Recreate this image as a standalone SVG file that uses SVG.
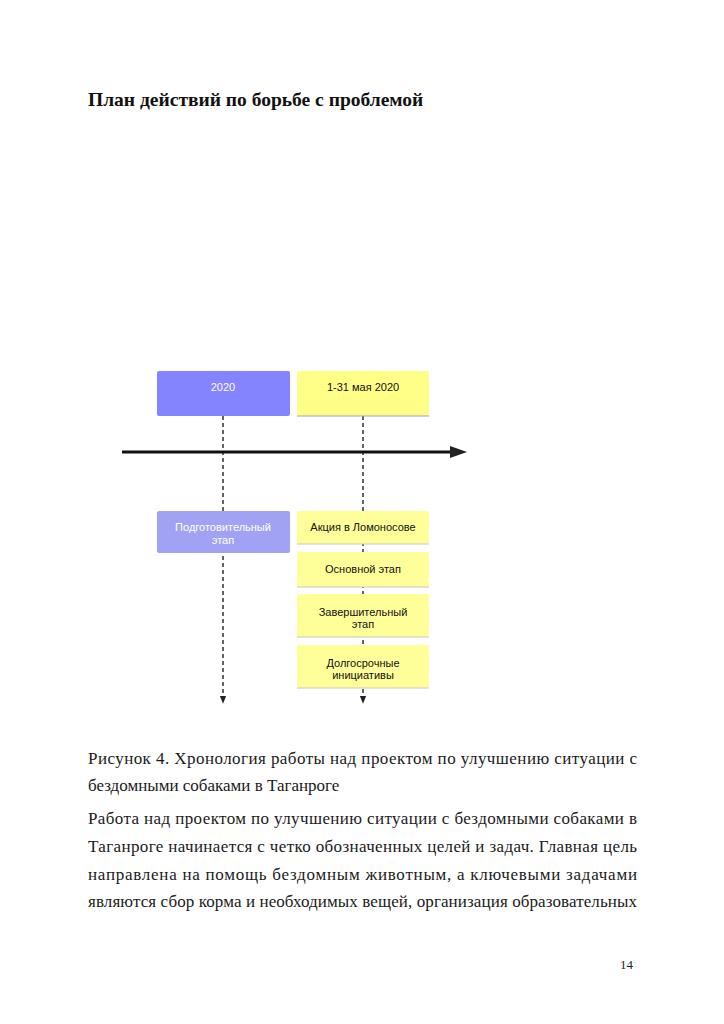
<svg xmlns="http://www.w3.org/2000/svg" width="724" height="1024" viewBox="0 0 724 1024">
<defs>
<style>
.title{font-family:"Liberation Serif",serif;font-weight:bold;font-size:19.5px;fill:#111}
.body{font-family:"Liberation Serif",serif;font-size:17px;fill:#1a1a1a}
.lbl{font-family:"Liberation Sans",Arial,sans-serif;font-size:11px;text-anchor:middle}
.w{fill:#ffffff}
.k{fill:#111111}
.dash{stroke:#111;stroke-width:1.3;stroke-dasharray:4 3;fill:none}
</style>
<marker id="ah" viewBox="0 0 10 10" refX="9" refY="5" markerWidth="8" markerHeight="8" orient="auto" markerUnits="userSpaceOnUse">
<path d="M0,1 L10,5 L0,9 Z" fill="#222"/>
</marker>
</defs>
<rect width="724" height="1024" fill="#ffffff"/>
<text class="title" x="88" y="106">План действий по борьбе с проблемой</text>

<g id="connectors">
<line class="dash" x1="223" y1="416" x2="223" y2="703" marker-end="url(#ah)"/>
<line class="dash" x1="363" y1="416" x2="363" y2="703" marker-end="url(#ah)"/>
<line x1="122" y1="452" x2="452" y2="452" stroke="#111" stroke-width="3"/>
<path d="M450,446 L467,452 L450,458 Z" fill="#222"/>
</g>

<g id="n-2020">
<rect x="157" y="371" width="133" height="45" rx="2" fill="#8484ff"/>
<text class="lbl w" x="223" y="391">2020</text>
</g>
<g id="n-may">
<rect x="297" y="371" width="132" height="45" rx="2" fill="#ffff88"/>
<line x1="297" y1="416" x2="429" y2="416" stroke="#a0a0d8" stroke-width="1.2"/>
<text class="lbl k" x="363" y="391">1-31 мая 2020</text>
</g>
<g id="n-prep">
<rect x="157" y="511" width="133" height="42" rx="2" fill="#a2a2f5"/>
<text class="lbl w" x="223" y="531">Подготовительный</text>
<text class="lbl w" x="223" y="544">этап</text>
</g>
<g id="n-akcia">
<rect x="297" y="511" width="132" height="33" rx="2" fill="#ffff99"/>
<line x1="297" y1="544" x2="429" y2="544" stroke="#c8c8c0" stroke-width="1"/>
<text class="lbl k" x="363" y="531">Акция в Ломоносове</text>
</g>
<g id="n-osn">
<rect x="297" y="552" width="132" height="35" rx="2" fill="#ffff99"/>
<line x1="297" y1="587" x2="429" y2="587" stroke="#c8c8c0" stroke-width="1"/>
<text class="lbl k" x="363" y="573">Основной этап</text>
</g>
<g id="n-zav">
<rect x="297" y="594" width="132" height="43" rx="2" fill="#ffff99"/>
<line x1="297" y1="637" x2="429" y2="637" stroke="#c8c8c0" stroke-width="1"/>
<text class="lbl k" x="363" y="616">Завершительный</text>
<text class="lbl k" x="363" y="628">этап</text>
</g>
<g id="n-dolg">
<rect x="297" y="645" width="132" height="43" rx="2" fill="#ffff99"/>
<line x1="297" y1="688" x2="429" y2="688" stroke="#c8c8c0" stroke-width="1"/>
<text class="lbl k" x="363" y="667">Долгосрочные</text>
<text class="lbl k" x="363" y="679">инициативы</text>
</g>

<g id="caption">
<text class="body" x="88" y="764" textLength="549" lengthAdjust="spacing">Рисунок 4. Хронология работы над проектом по улучшению ситуации с</text>
<text class="body" x="88" y="791">бездомными собаками в Таганроге</text>
<text class="body" x="88" y="824" textLength="549" lengthAdjust="spacing">Работа над проектом по улучшению ситуации с бездомными собаками в</text>
<text class="body" x="88" y="852" textLength="549" lengthAdjust="spacing">Таганроге начинается с четко обозначенных целей и задач. Главная цель</text>
<text class="body" x="88" y="880" textLength="549" lengthAdjust="spacing">направлена на помощь бездомным животным, а ключевыми задачами</text>
<text class="body" x="88" y="907" textLength="549" lengthAdjust="spacing">являются сбор корма и необходимых вещей, организация образовательных</text>
</g>
<text x="633" y="969" style="font-family:'Liberation Serif',serif;font-size:13px;fill:#222;text-anchor:end">14</text>
</svg>
